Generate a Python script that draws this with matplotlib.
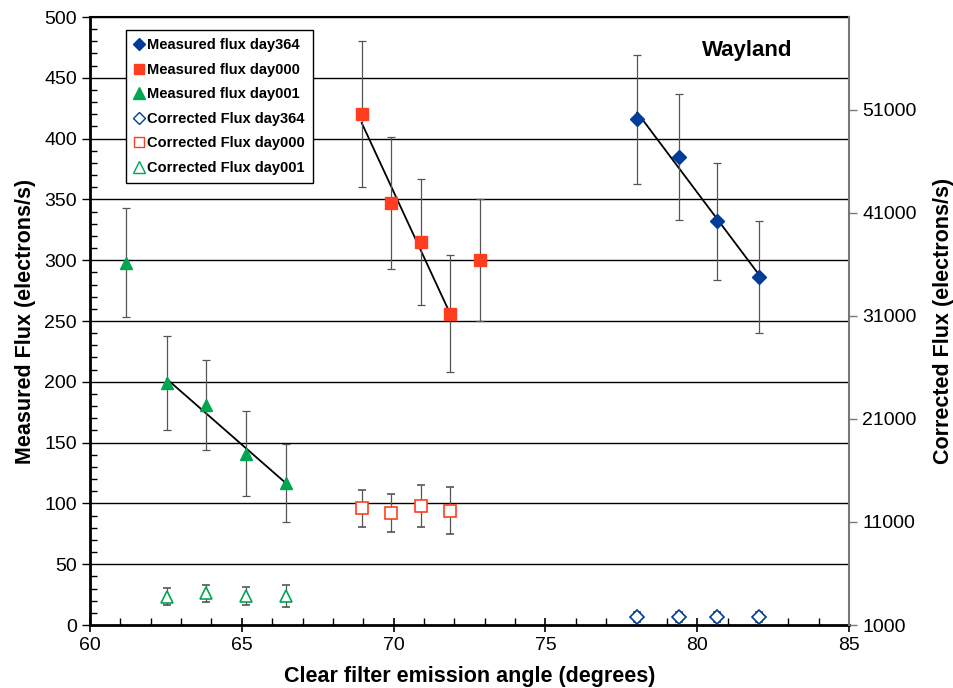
import matplotlib.pyplot as plt
import matplotlib.ticker as ticker
import numpy as np

plt.rcParams['font.family'] = ['Liberation Sans', 'DejaVu Sans']

# Measured flux (left axis, electrons/s)
ang364 = [78.02, 79.41, 80.65, 82.04]
flux364 = [416, 385, 332, 286]
err364 = [53, 52, 48, 46]

ang000 = [68.95, 69.91, 70.90, 71.86, 72.85]
flux000 = [420, 347, 315, 256, 300]
err000 = [60, 54, 52, 48, 50]

ang001 = [61.2, 62.53, 63.83, 65.14, 66.46]
flux001 = [298, 199, 181, 141, 117]
err001 = [45, 39, 37, 35, 32]

# Corrected flux (right axis, electrons/s)
corr364 = [1780, 1800, 1790, 1780]
cerr364 = [500, 500, 500, 500]
corr000 = [12330, 11860, 12560, 12090]
cerr000 = [1800, 1850, 2050, 2300]
corr001 = [3750, 4070, 3810, 3810]
cerr001 = [800, 850, 900, 1100]

c_blue = '#003c9a'
c_red = '#ff3e1f'
c_green = '#00a651'
c_err = '#555555'

fig = plt.figure(figsize=(9.54, 6.88), dpi=100)
ax = fig.add_axes([90 / 954, 63 / 688, 759 / 954, 608 / 688])
ax2 = ax.twinx()

# horizontal grid
for yv in range(50, 501, 50):
    ax.axhline(yv, color='black', lw=1.0, zorder=0)

ekw = dict(ecolor=c_err, elinewidth=0.9, capsize=3, capthick=0.9, ls='none')
ax.errorbar(ang364, flux364, yerr=err364, marker='D', ms=7, mfc=c_blue, mec=c_blue, zorder=3, **ekw)
ax.errorbar(ang000, flux000, yerr=err000, marker='s', ms=8, mfc=c_red, mec=c_red, zorder=3, **ekw)
ax.errorbar(ang001, flux001, yerr=err001, marker='^', ms=9, mfc=c_green, mec=c_green, zorder=3, **ekw)

# trend lines through the sequences
for xs, ys in [(ang364, flux364), (ang000[:4], flux000[:4]), (ang001[1:], flux001[1:])]:
    p = np.polyfit(xs, ys, 1)
    xx = np.array([xs[0], xs[-1]])
    ax.plot(xx, np.polyval(p, xx), color='black', lw=1.3, zorder=2)

ax.set_xlim(60, 85)
ax.set_ylim(0, 500)
ax.xaxis.set_major_locator(ticker.MultipleLocator(5))
ax.xaxis.set_minor_locator(ticker.MultipleLocator(1))
ax.yaxis.set_major_locator(ticker.MultipleLocator(50))
ax.yaxis.set_minor_locator(ticker.MultipleLocator(10))
ax.tick_params(axis='x', which='major', direction='inout', length=10, width=1.2, labelsize=14, pad=4)
ax.tick_params(axis='x', which='minor', direction='in', length=5, width=1)
ax.tick_params(axis='y', which='major', direction='out', length=6, width=1, labelsize=14)
ax.tick_params(axis='y', which='minor', direction='in', length=5, width=1)
ax.set_xlabel('Clear filter emission angle (degrees)', fontsize=15.5, fontweight='bold', labelpad=8)
ax.set_ylabel('Measured Flux (electrons/s)', fontsize=15.5, fontweight='bold', labelpad=6)
for s in ['left', 'bottom']:
    ax.spines[s].set_linewidth(2)
ax.spines['top'].set_linewidth(1.5)
ax.spines['right'].set_visible(False)

okw = dict(ecolor=c_err, elinewidth=0.9, capsize=3, capthick=0.9, ls='none', mfc='white', zorder=3)
ax2.errorbar(ang364, corr364, yerr=cerr364, marker='D', ms=7, mec=c_blue, mew=1.2, **okw)
ax2.errorbar(ang000[:4], corr000, yerr=cerr000, marker='s', ms=8, mec=c_red, mew=1.2, **okw)
ax2.errorbar(ang001[1:], corr001, yerr=cerr001, marker='^', ms=9, mec=c_green, mew=1.2, **okw)
ax2.set_ylim(1000, 60000)
ax2.set_yticks(range(1000, 51001, 10000))
ax2.tick_params(axis='y', direction='out', length=6, width=1, colors='#777777', labelcolor='black', labelsize=14)
ax2.set_ylabel('Corrected Flux (electrons/s)', fontsize=15.5, fontweight='bold', labelpad=12)
ax2.spines['right'].set_color('#777777')
ax2.spines['right'].set_linewidth(1.5)
for s in ['left', 'top', 'bottom']:
    ax2.spines[s].set_visible(False)

ax2.text(0.925, 0.945, 'Wayland', transform=ax.transAxes, fontsize=16, fontweight='bold',
         ha='right', va='center')

# legend
hs = [
    plt.Line2D([], [], ls='none', marker='D', ms=6.5, mfc=c_blue, mec=c_blue),
    plt.Line2D([], [], ls='none', marker='s', ms=7.5, mfc=c_red, mec=c_red),
    plt.Line2D([], [], ls='none', marker='^', ms=8, mfc=c_green, mec=c_green),
    plt.Line2D([], [], ls='none', marker='D', ms=6.5, mfc='white', mec=c_blue),
    plt.Line2D([], [], ls='none', marker='s', ms=7.5, mfc='white', mec=c_red),
    plt.Line2D([], [], ls='none', marker='^', ms=8, mfc='white', mec=c_green),
]
labels = ['Measured flux day364', 'Measured flux day000', 'Measured flux day001',
          'Corrected Flux day364', 'Corrected Flux day000', 'Corrected Flux day001']
leg = ax2.legend(hs, labels, loc='upper left', bbox_to_anchor=(0.038, 0.99), frameon=True,
                 fancybox=False, edgecolor='black', framealpha=1, handlelength=0.6,
                 handletextpad=0.3, labelspacing=0.72, borderpad=0.55,
                 prop={'weight': 'bold', 'size': 10.5})
leg.get_frame().set_linewidth(1)

plt.savefig('out.png', dpi=100)
